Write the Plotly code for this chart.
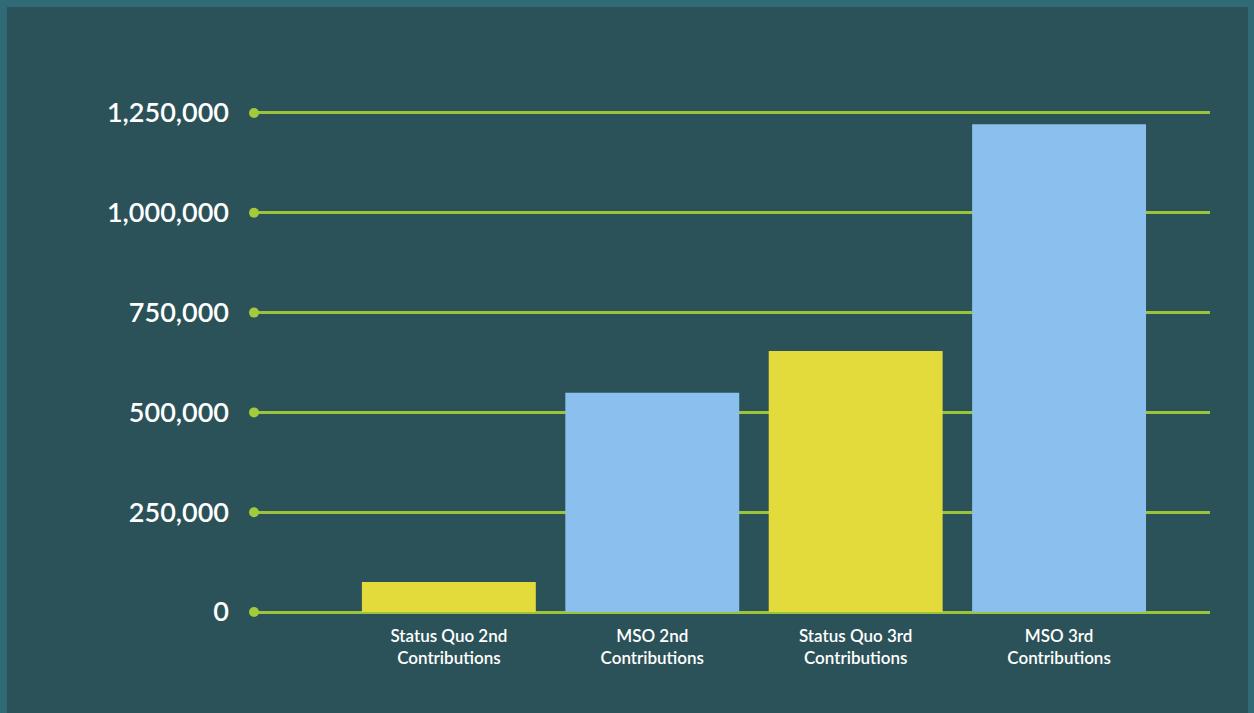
import plotly.graph_objects as go

categories = ["Status Quo 2nd<br>Contributions", "MSO 2nd<br>Contributions",
              "Status Quo 3rd<br>Contributions", "MSO 3rd<br>Contributions"]
values = [75000, 549000, 654000, 1222000]
bar_colors = ["#e3da3b", "#8bbfed", "#e3da3b", "#8bbfed"]
tick_vals = [0, 250000, 500000, 750000, 1000000, 1250000]
tick_text = ["0", "250,000", "500,000", "750,000", "1,000,000", "1,250,000"]

INNER = "#2c5259"
BORDER = "#2f6a76"
GREEN = "#9cc43a"

x_lo, x_hi = -0.958, 3.742

fig = go.Figure()
fig.add_trace(go.Bar(x=[0, 1, 2, 3], y=values, marker=dict(color=bar_colors, line=dict(width=0)),
                     width=0.855, hoverinfo="skip"))
fig.add_trace(go.Scatter(x=[x_lo] * len(tick_vals), y=tick_vals, mode="markers",
                         marker=dict(color="#a3c93c", size=10), cliponaxis=False, hoverinfo="skip"))

fig.update_layout(
    width=1254, height=713,
    margin=dict(l=254, r=44, t=105, b=93),
    paper_bgcolor=BORDER,
    plot_bgcolor="rgba(0,0,0,0)",
    showlegend=False,
    bargap=0.145,
    font=dict(family="Lato", color="white"),
    xaxis=dict(range=[x_lo, x_hi], tickmode="array", tickvals=[0, 1, 2, 3], ticktext=categories,
               showgrid=False, zeroline=False, showline=False, ticks="",
               tickfont=dict(size=17, family="Lato", color="white", weight=600), ticklabelstandoff=4),
    yaxis=dict(range=[-20000, 1270000], tickmode="array", tickvals=tick_vals, ticktext=tick_text,
               showgrid=True, gridcolor=GREEN, gridwidth=2.5, zeroline=False, showline=False,
               ticks="", tickfont=dict(size=27, family="Lato", color="white", weight=600),
               ticklabelstandoff=24),
    shapes=[dict(type="rect", xref="paper", yref="paper", x0=-0.2584, x1=1.0397, y0=-0.19, y1=1.1903,
                 fillcolor=INNER, line=dict(width=0), layer="below")],
)

fig.write_html("out.html")
